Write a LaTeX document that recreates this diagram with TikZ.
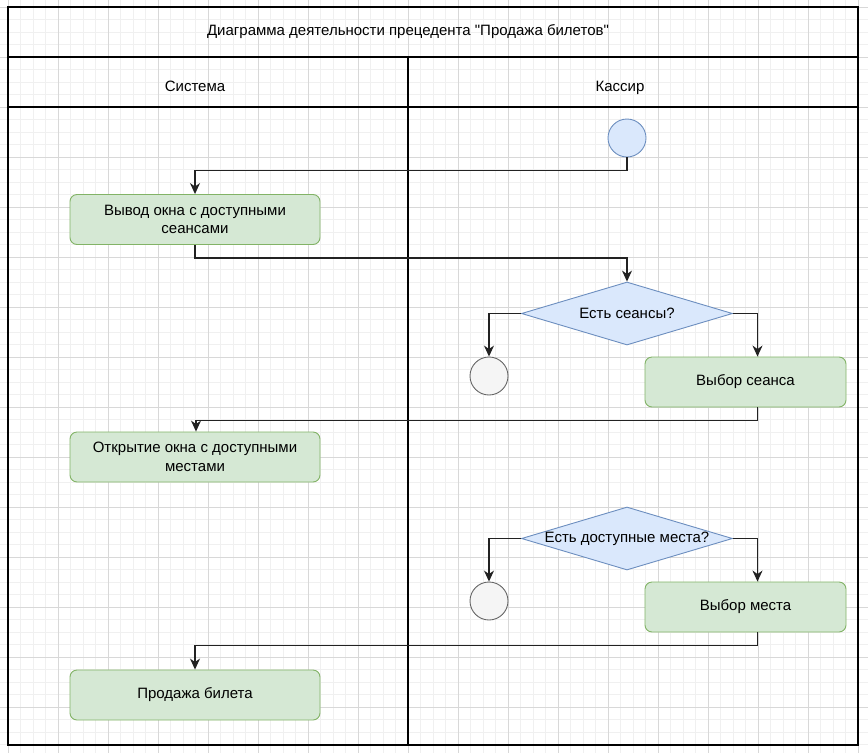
\documentclass[tikz,border=0pt]{standalone}
\usepackage{fontspec}
\newfontfamily\uifont{Liberation Sans}
\usetikzlibrary{arrows.meta,shapes.geometric}
\definecolor{gfill}{HTML}{D5E8D4}
\definecolor{gline}{HTML}{82B366}
\definecolor{bfill}{HTML}{DAE8FC}
\definecolor{bline}{HTML}{6C8EBF}
\definecolor{efill}{HTML}{F5F5F5}
\definecolor{eline}{HTML}{666666}
\definecolor{minorgrid}{HTML}{F0F0F0}
\definecolor{majorgrid}{HTML}{D8D8D8}
\definecolor{connc}{HTML}{222222}
\tikzset{
  lbl/.style={font=\uifont\fontsize{15}{18}\selectfont, text=black, text height=11pt, text depth=3.5pt},
  actbox/.style={draw=gline, fill=gfill, rounded corners=7pt, line width=0.9pt,
    minimum width=250pt, minimum height=50pt, align=center, inner sep=2pt,
    font=\uifont\fontsize{15}{18.5}\selectfont},
  decis/.style={diamond, draw=bline, fill=bfill, line width=0.9pt, aspect=3.35,
    minimum width=211pt, minimum height=63pt, inner sep=0pt,
    font=\uifont\fontsize{15}{18}\selectfont},
  startc/.style={circle, draw=bline, fill=bfill, line width=0.9pt, minimum size=38pt, inner sep=0pt},
  endc/.style={circle, draw=eline, fill=efill, line width=0.9pt, minimum size=38pt, inner sep=0pt},
  conn/.style={draw=connc, line width=1.3pt, -{Stealth[length=11pt,width=10pt,inset=3.5pt]}},
  border/.style={draw=black, line width=1.3pt}
}
\begin{document}
\begin{tikzpicture}[x=1pt,y=-1pt]
\useasboundingbox (0,0) rectangle (868,753);
\fill[white] (0,0) rectangle (868,753);
% grid
\foreach \k in {-1,...,69} {
  \draw[minorgrid, line width=0.7pt] ({8+12.5*\k},0) -- ({8+12.5*\k},753);
}
\foreach \k in {-1,...,60} {
  \draw[minorgrid, line width=0.7pt] (0,{7+12.5*\k}) -- (868,{7+12.5*\k});
}
\foreach \k in {0,...,17} {
  \draw[majorgrid, line width=0.8pt] ({8+50*\k},0) -- ({8+50*\k},753);
}
\foreach \k in {0,...,15} {
  \draw[majorgrid, line width=0.8pt] (0,{7+50*\k}) -- (868,{7+50*\k});
}
% frame
\draw[border] (8,7) rectangle (858,745);
\draw[border] (8,57) -- (858,57);
\draw[border] (8,107) -- (858,107);
\draw[border] (408,57) -- (408,745);
\node[lbl] (title) at (408,32) {Диаграмма деятельности прецедента "Продажа билетов"};
\node[lbl] (lane1) at (195,88) {Система};
\node[lbl] (lane2) at (620,88) {Кассир};
% nodes
\node[startc] (start) at (627,138) {};
\node[actbox] (b1) at (195,219.5) {Вывод окна с доступными\\сеансами};
\node[decis] (d1) at (627,313.5) {Есть сеансы?};
\node[endc] (e1) at (489,376) {};
\node[actbox, minimum width=201pt] (b2) at (745.5,382) {Выбор сеанса};
\node[actbox] (b3) at (195,457) {Открытие окна с доступными\\местами};
\node[decis] (d2) at (627,538.5) {Есть доступные места?};
\node[endc] (e2) at (489,601) {};
\node[actbox, minimum width=201pt] (b4) at (745.5,607) {Выбор места};
\node[actbox] (b5) at (195,695) {Продажа билета};
% connectors
\draw[conn] (start.south) -- ++(0,13) -| (b1.north);
\draw[conn] (b1.south) -- ++(0,13) -| (d1.north);
\draw[conn] (d1.west) -| (e1.north);
\draw[conn] (d1.east) -| ([xshift=12pt]b2.north);
\draw[conn] ([xshift=12pt]b2.south) -- ++(0,13) -| ([xshift=1pt]b3.north);
\draw[conn] (d2.west) -| (e2.north);
\draw[conn] (d2.east) -| ([xshift=12pt]b4.north);
\draw[conn] ([xshift=12pt]b4.south) -- ++(0,13) -| (b5.north);
\end{tikzpicture}
\end{document}
